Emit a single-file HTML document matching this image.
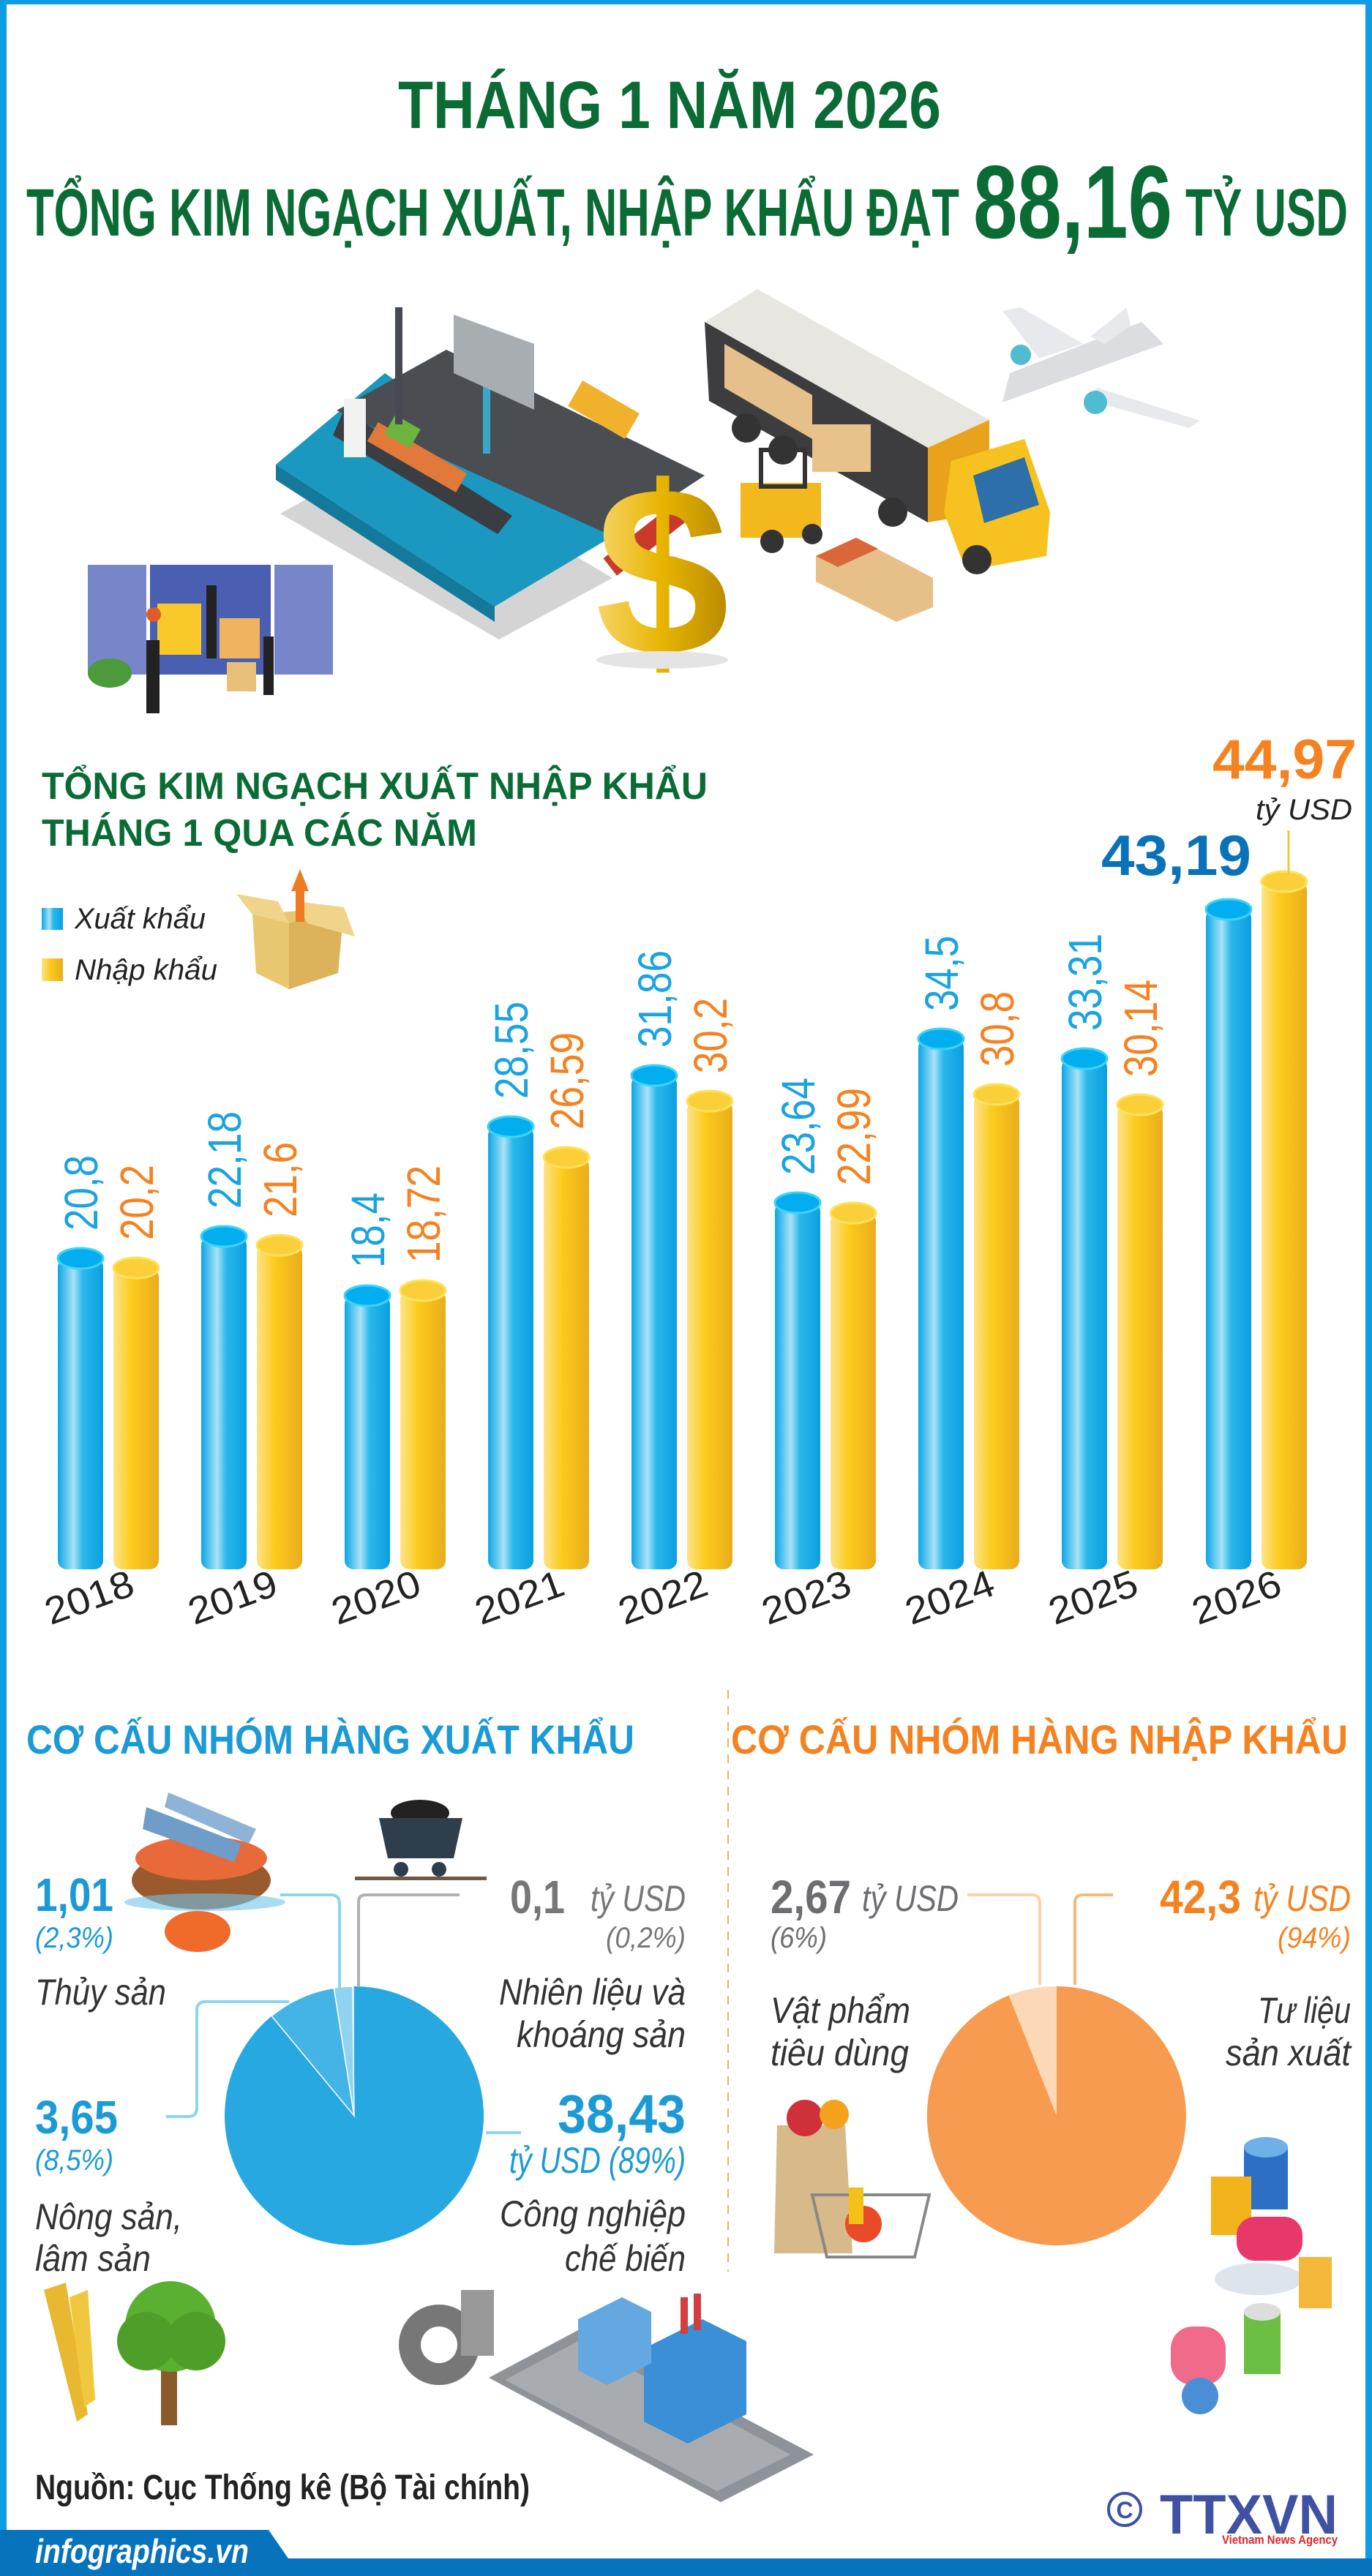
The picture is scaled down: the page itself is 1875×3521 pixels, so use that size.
<!DOCTYPE html>
<html><head><meta charset="utf-8"><style>
html,body{margin:0;padding:0;background:#fff}
svg{display:block}
text{font-family:"Liberation Sans Narrow","Liberation Sans","DejaVu Sans",sans-serif}
</style></head><body>
<svg width="1875" height="3521" viewBox="0 0 1875 3521" xmlns="http://www.w3.org/2000/svg">
<defs>
<linearGradient id="gb" x1="0" x2="1" y1="0" y2="0">
<stop offset="0" stop-color="#0aa6e6"/><stop offset="0.35" stop-color="#a9e2f6"/><stop offset="0.55" stop-color="#2ab8ec"/><stop offset="1" stop-color="#0a9fe0"/></linearGradient>
<linearGradient id="gy" x1="0" x2="1" y1="0" y2="0">
<stop offset="0" stop-color="#fde38a"/><stop offset="0.4" stop-color="#fccb1c"/><stop offset="1" stop-color="#e9ad1c"/></linearGradient>
<linearGradient id="gd" x1="0" x2="1"><stop offset="0" stop-color="#f7d66a"/><stop offset="0.5" stop-color="#e8b400"/><stop offset="1" stop-color="#b88a00"/></linearGradient>
</defs>
<!-- frame -->
<rect x="0" y="0" width="1875" height="6" fill="#0e9de0"/>
<rect x="0" y="0" width="9" height="3521" fill="#0e9de0"/>
<rect x="1866" y="0" width="9" height="3521" fill="#0e9de0"/>

<!-- Titles -->
<text x="915" y="175" font-size="92" font-weight="bold" fill="#0a6b35" text-anchor="middle" textLength="742" lengthAdjust="spacingAndGlyphs">THÁNG 1 NĂM 2026</text>
<text x="36" y="322" font-size="92" font-weight="bold" fill="#0a6b35" textLength="1275" lengthAdjust="spacingAndGlyphs">TỔNG KIM NGẠCH XUẤT, NHẬP KHẨU ĐẠT</text>
<text x="1330" y="325" font-size="142" font-weight="bold" fill="#0a6b35" textLength="272" lengthAdjust="spacingAndGlyphs">88,16</text>
<text x="1620" y="322" font-size="92" font-weight="bold" fill="#0a6b35" textLength="222" lengthAdjust="spacingAndGlyphs">TỶ USD</text>

<!-- Illustration: port -->
<polygon points="383,702 682,874 837,790 540,615" fill="#d4d4d4"/>
<polygon points="377,635 676,829 837,733 526,510" fill="#1a98c0"/>
<polygon points="377,635 676,829 676,850 377,656" fill="#137a9c"/>
<polygon points="460,561 837,733 963,650 610,478" fill="#4a4d52"/>
<polygon points="455,595 680,730 700,705 470,560" fill="#3a3d42"/>
<rect x="500" y="610" width="140" height="30" fill="#e0793a" transform="rotate(30 570 625)"/>
<rect x="530" y="575" width="40" height="30" fill="#6cb33f" transform="rotate(30 550 590)"/>
<rect x="780" y="540" width="90" height="40" fill="#f0b22d" transform="rotate(30 825 560)"/>
<rect x="470" y="545" width="30" height="80" fill="#f2f2f2"/>
<rect x="540" y="420" width="10" height="160" fill="#454a52"/>
<rect x="660" y="450" width="10" height="170" fill="#3ba6c6"/>
<polygon points="620,430 730,470 730,560 620,510" fill="#a8adb2"/>
<rect x="820" y="720" width="130" height="30" fill="#c93a2a" transform="rotate(-38 885 735)"/>
<!-- truck -->
<polygon points="963,440 1035,395 1352,574 1268,612" fill="#e8e6e0"/>
<polygon points="963,440 1268,612 1268,714 969,548" fill="#3d3d3f"/>
<polygon points="990,470 1110,540 1110,600 990,530" fill="#e6c08a"/>
<polygon points="1268,612 1352,574 1352,700 1268,714" fill="#e8a21c"/>
<polygon points="1300,630 1400,600 1435,700 1430,760 1320,780 1290,700" fill="#f7c21f"/>
<polygon points="1330,650 1400,625 1420,690 1345,715" fill="#2d6fa8"/>
<circle cx="1020" cy="585" r="20" fill="#333"/><circle cx="1070" cy="615" r="20" fill="#333"/>
<circle cx="1220" cy="700" r="20" fill="#333"/><circle cx="1335" cy="765" r="20" fill="#333"/>
<!-- forklift -->
<rect x="1012" y="660" width="110" height="75" fill="#f3b81d"/>
<rect x="1040" y="615" width="60" height="50" fill="none" stroke="#333" stroke-width="6"/>
<circle cx="1055" cy="740" r="16" fill="#333"/><circle cx="1110" cy="730" r="14" fill="#333"/>
<rect x="1110" y="580" width="80" height="65" fill="#e8c28a"/>
<!-- boxes -->
<polygon points="1115,760 1170,735 1275,790 1275,830 1225,850 1115,795" fill="#e6c088"/>
<polygon points="1115,760 1170,735 1200,750 1145,775" fill="#d9673a"/>
<!-- dollar -->
<text x="905" y="895" font-size="330" font-weight="bold" fill="url(#gd)" text-anchor="middle" font-family="Liberation Serif, serif">$</text>
<ellipse cx="905" cy="902" rx="90" ry="12" fill="#e4e4e4"/>
<!-- plane -->
<polygon points="1370,550 1380,510 1560,440 1590,470" fill="#dcdde0"/>
<polygon points="1420,490 1370,425 1395,420 1480,470" fill="#e8e9ec"/>
<polygon points="1500,530 1640,575 1625,585 1480,545" fill="#e8e9ec"/>
<polygon points="1490,460 1540,420 1545,445 1510,470" fill="#e8e9ec"/>
<circle cx="1395" cy="485" r="14" fill="#4fbccf"/><circle cx="1497" cy="550" r="16" fill="#4fbccf"/>
<!-- blue truck back -->
<rect x="120" y="772" width="80" height="150" fill="#7786c8"/>
<rect x="375" y="772" width="80" height="150" fill="#7786c8"/>
<rect x="205" y="772" width="165" height="150" fill="#4a5fb2"/>
<rect x="215" y="825" width="60" height="70" fill="#f8c928"/>
<rect x="300" y="845" width="55" height="55" fill="#f0b460"/>
<rect x="200" y="875" width="18" height="100" fill="#222"/>
<rect x="282" y="800" width="14" height="100" fill="#222"/>
<rect x="360" y="870" width="14" height="80" fill="#222"/>
<circle cx="210" cy="840" r="10" fill="#e05a2a"/>
<ellipse cx="150" cy="920" rx="30" ry="20" fill="#4c9a3c"/>
<rect x="310" y="905" width="40" height="40" fill="#e8c07a"/>

<!-- Chart title -->
<text x="57" y="1092" font-size="52" font-weight="bold" fill="#0a6b35" textLength="910" lengthAdjust="spacingAndGlyphs">TỔNG KIM NGẠCH XUẤT NHẬP KHẨU</text>
<text x="57" y="1156" font-size="52" font-weight="bold" fill="#0a6b35" textLength="595" lengthAdjust="spacingAndGlyphs">THÁNG 1 QUA CÁC NĂM</text>
<!-- legend -->
<rect x="57" y="1241" width="29" height="30" fill="url(#gb)"/>
<text x="102" y="1269" font-size="40" font-style="italic" fill="#222" textLength="179" lengthAdjust="spacingAndGlyphs">Xuất khẩu</text>
<rect x="57" y="1310" width="29" height="31" fill="url(#gy)"/>
<text x="102" y="1339" font-size="40" font-style="italic" fill="#222" textLength="195" lengthAdjust="spacingAndGlyphs">Nhập khẩu</text>
<!-- box icon -->
<polygon points="345,1250 470,1240 462,1330 395,1352 350,1330" fill="#e9c670"/>
<polygon points="395,1262 470,1240 462,1330 395,1352" fill="#dcb35a"/>
<polygon points="323,1222 345,1250 395,1262 380,1232" fill="#f0d48a"/>
<polygon points="405,1232 470,1240 485,1280 420,1262" fill="#f0d48a"/>
<rect x="404" y="1215" width="12" height="45" fill="#f07a22"/>
<polygon points="398,1218 422,1218 410,1188" fill="#f07a22"/>

<!-- bars -->
<g id="bars">
<!-- generated per bar -->
</g>
<g>
<!-- 2018 -->
<rect x="79" y="1720" width="62" height="425" rx="12" fill="url(#gb)"/><ellipse cx="110" cy="1720" rx="31" ry="14" fill="#02aeef" stroke="#3dd3f7" stroke-width="3"/>
<rect x="155" y="1733" width="62" height="412" rx="12" fill="url(#gy)"/><ellipse cx="186" cy="1733" rx="31" ry="14" fill="#fbcf3a" stroke="#fde35b" stroke-width="3"/>
<!-- 2019 -->
<rect x="275" y="1690" width="62" height="455" rx="12" fill="url(#gb)"/><ellipse cx="306" cy="1690" rx="31" ry="14" fill="#02aeef" stroke="#3dd3f7" stroke-width="3"/>
<rect x="351" y="1702" width="62" height="443" rx="12" fill="url(#gy)"/><ellipse cx="382" cy="1702" rx="31" ry="14" fill="#fbcf3a" stroke="#fde35b" stroke-width="3"/>
<!-- 2020 -->
<rect x="471" y="1771" width="62" height="374" rx="12" fill="url(#gb)"/><ellipse cx="502" cy="1771" rx="31" ry="14" fill="#02aeef" stroke="#3dd3f7" stroke-width="3"/>
<rect x="547" y="1764" width="62" height="381" rx="12" fill="url(#gy)"/><ellipse cx="578" cy="1764" rx="31" ry="14" fill="#fbcf3a" stroke="#fde35b" stroke-width="3"/>
<!-- 2021 -->
<rect x="667" y="1540" width="62" height="605" rx="12" fill="url(#gb)"/><ellipse cx="698" cy="1540" rx="31" ry="14" fill="#02aeef" stroke="#3dd3f7" stroke-width="3"/>
<rect x="743" y="1582" width="62" height="563" rx="12" fill="url(#gy)"/><ellipse cx="774" cy="1582" rx="31" ry="14" fill="#fbcf3a" stroke="#fde35b" stroke-width="3"/>
<!-- 2022 -->
<rect x="863" y="1470" width="62" height="675" rx="12" fill="url(#gb)"/><ellipse cx="894" cy="1470" rx="31" ry="14" fill="#02aeef" stroke="#3dd3f7" stroke-width="3"/>
<rect x="939" y="1505" width="62" height="640" rx="12" fill="url(#gy)"/><ellipse cx="970" cy="1505" rx="31" ry="14" fill="#fbcf3a" stroke="#fde35b" stroke-width="3"/>
<!-- 2023 -->
<rect x="1059" y="1644" width="62" height="501" rx="12" fill="url(#gb)"/><ellipse cx="1090" cy="1644" rx="31" ry="14" fill="#02aeef" stroke="#3dd3f7" stroke-width="3"/>
<rect x="1135" y="1658" width="62" height="487" rx="12" fill="url(#gy)"/><ellipse cx="1166" cy="1658" rx="31" ry="14" fill="#fbcf3a" stroke="#fde35b" stroke-width="3"/>
<!-- 2024 -->
<rect x="1255" y="1420" width="62" height="725" rx="12" fill="url(#gb)"/><ellipse cx="1286" cy="1420" rx="31" ry="14" fill="#02aeef" stroke="#3dd3f7" stroke-width="3"/>
<rect x="1331" y="1496" width="62" height="649" rx="12" fill="url(#gy)"/><ellipse cx="1362" cy="1496" rx="31" ry="14" fill="#fbcf3a" stroke="#fde35b" stroke-width="3"/>
<!-- 2025 -->
<rect x="1451" y="1447" width="62" height="698" rx="12" fill="url(#gb)"/><ellipse cx="1482" cy="1447" rx="31" ry="14" fill="#02aeef" stroke="#3dd3f7" stroke-width="3"/>
<rect x="1527" y="1510" width="62" height="635" rx="12" fill="url(#gy)"/><ellipse cx="1558" cy="1510" rx="31" ry="14" fill="#fbcf3a" stroke="#fde35b" stroke-width="3"/>
<!-- 2026 -->
<rect x="1648" y="1243" width="62" height="902" rx="12" fill="url(#gb)"/><ellipse cx="1679" cy="1243" rx="31" ry="14" fill="#02aeef" stroke="#3dd3f7" stroke-width="3"/>
<rect x="1724" y="1205" width="62" height="940" rx="12" fill="url(#gy)"/><ellipse cx="1755" cy="1205" rx="31" ry="14" fill="#fbcf3a" stroke="#fde35b" stroke-width="3"/>
</g>
<!-- bar labels -->
<g font-size="64" font-family="Liberation Sans, sans-serif">
<text transform="translate(133,1682) rotate(-90)" fill="#1aa3e0" textLength="103" lengthAdjust="spacingAndGlyphs">20,8</text>
<text transform="translate(209,1695) rotate(-90)" fill="#f58220" textLength="103" lengthAdjust="spacingAndGlyphs">20,2</text>
<text transform="translate(329,1652) rotate(-90)" fill="#1aa3e0" textLength="133" lengthAdjust="spacingAndGlyphs">22,18</text>
<text transform="translate(405,1664) rotate(-90)" fill="#f58220" textLength="103" lengthAdjust="spacingAndGlyphs">21,6</text>
<text transform="translate(525,1733) rotate(-90)" fill="#1aa3e0" textLength="103" lengthAdjust="spacingAndGlyphs">18,4</text>
<text transform="translate(601,1726) rotate(-90)" fill="#f58220" textLength="133" lengthAdjust="spacingAndGlyphs">18,72</text>
<text transform="translate(721,1502) rotate(-90)" fill="#1aa3e0" textLength="133" lengthAdjust="spacingAndGlyphs">28,55</text>
<text transform="translate(797,1544) rotate(-90)" fill="#f58220" textLength="133" lengthAdjust="spacingAndGlyphs">26,59</text>
<text transform="translate(917,1432) rotate(-90)" fill="#1aa3e0" textLength="133" lengthAdjust="spacingAndGlyphs">31,86</text>
<text transform="translate(993,1467) rotate(-90)" fill="#f58220" textLength="103" lengthAdjust="spacingAndGlyphs">30,2</text>
<text transform="translate(1113,1606) rotate(-90)" fill="#1aa3e0" textLength="133" lengthAdjust="spacingAndGlyphs">23,64</text>
<text transform="translate(1189,1620) rotate(-90)" fill="#f58220" textLength="133" lengthAdjust="spacingAndGlyphs">22,99</text>
<text transform="translate(1309,1382) rotate(-90)" fill="#1aa3e0" textLength="103" lengthAdjust="spacingAndGlyphs">34,5</text>
<text transform="translate(1385,1458) rotate(-90)" fill="#f58220" textLength="103" lengthAdjust="spacingAndGlyphs">30,8</text>
<text transform="translate(1505,1409) rotate(-90)" fill="#1aa3e0" textLength="133" lengthAdjust="spacingAndGlyphs">33,31</text>
<text transform="translate(1581,1472) rotate(-90)" fill="#f58220" textLength="133" lengthAdjust="spacingAndGlyphs">30,14</text>
</g>
<text x="1505" y="1196" font-size="78" font-weight="bold" fill="#0a72b8" textLength="205" lengthAdjust="spacingAndGlyphs">43,19</text>
<text x="1657" y="1064" font-size="76" font-weight="bold" fill="#f58220" textLength="197" lengthAdjust="spacingAndGlyphs">44,97</text>
<text x="1716" y="1120" font-size="40" font-style="italic" fill="#222" textLength="132" lengthAdjust="spacingAndGlyphs">tỷ USD</text>
<line x1="1761" y1="1135" x2="1761" y2="1195" stroke="#f5c542" stroke-width="3"/>
<!-- years -->
<g font-size="52" fill="#222" font-family="Liberation Sans, sans-serif">
<text transform="translate(128,2200) rotate(-20)" text-anchor="middle" textLength="125" lengthAdjust="spacingAndGlyphs">2018</text>
<text transform="translate(324,2200) rotate(-20)" text-anchor="middle" textLength="125" lengthAdjust="spacingAndGlyphs">2019</text>
<text transform="translate(520,2200) rotate(-20)" text-anchor="middle" textLength="125" lengthAdjust="spacingAndGlyphs">2020</text>
<text transform="translate(716,2200) rotate(-20)" text-anchor="middle" textLength="125" lengthAdjust="spacingAndGlyphs">2021</text>
<text transform="translate(912,2200) rotate(-20)" text-anchor="middle" textLength="125" lengthAdjust="spacingAndGlyphs">2022</text>
<text transform="translate(1108,2200) rotate(-20)" text-anchor="middle" textLength="125" lengthAdjust="spacingAndGlyphs">2023</text>
<text transform="translate(1304,2200) rotate(-20)" text-anchor="middle" textLength="125" lengthAdjust="spacingAndGlyphs">2024</text>
<text transform="translate(1500,2200) rotate(-20)" text-anchor="middle" textLength="125" lengthAdjust="spacingAndGlyphs">2025</text>
<text transform="translate(1696,2200) rotate(-20)" text-anchor="middle" textLength="125" lengthAdjust="spacingAndGlyphs">2026</text>
</g>

<!-- Section headings -->
<text x="36" y="2397" font-size="56" font-weight="bold" fill="#1b9ad6" textLength="831" lengthAdjust="spacingAndGlyphs">CƠ CẤU NHÓM HÀNG XUẤT KHẨU</text>
<text x="999" y="2397" font-size="56" font-weight="bold" fill="#f58220" textLength="843" lengthAdjust="spacingAndGlyphs">CƠ CẤU NHÓM HÀNG NHẬP KHẨU</text>
<line x1="995" y1="2310" x2="995" y2="3105" stroke="#e3b562" stroke-width="2" stroke-dasharray="12 10"/>

<!-- left pie -->
<path d="M484,2892 L371.2,2755.6 A177,177 0 1 0 484,2715 Z" fill="#27a8e0"/>
<path d="M484,2892 L456.3,2717.2 A177,177 0 0 0 371.2,2755.6 Z" fill="#44b4e6" stroke="#fff" stroke-width="1.5"/>
<path d="M484,2892 L481.8,2715 A177,177 0 0 0 456.3,2717.2 Z" fill="#8fd3f1" stroke="#fff" stroke-width="1.5"/>
<path d="M484,2892 L484,2715 A177,177 0 0 0 481.8,2715 Z" fill="#d6eef9"/>
<!-- right pie -->
<path d="M1444,2892 L1378.8,2727.4 A177,177 0 1 0 1444,2715 Z" fill="#f69b50"/>
<path d="M1444,2892 L1444,2715 A177,177 0 0 0 1378.8,2727.4 Z" fill="#fcd8b6"/>
<!-- connectors -->
<g fill="none" stroke-width="4">
<path d="M383,2590 H452 Q464,2590 464,2602 V2718" stroke="#8dd3f2"/>
<path d="M628,2590 H500 Q490,2590 490,2600 V2716" stroke="#b0b0b0"/>
<path d="M227,2893 H257 Q269,2893 269,2881 V2748 Q269,2736 281,2736 H395" stroke="#8dd3f2"/>
<path d="M664,2915 H712" stroke="#8dd3f2"/>
<path d="M1322,2590 H1410 Q1421,2590 1421,2601 V2713" stroke="#fcd2a8"/>
<path d="M1521,2590 H1480 Q1469,2590 1469,2601 V2713" stroke="#f9b877"/>
</g>
<!-- left texts -->
<text x="48" y="2612" font-size="64" font-weight="bold" fill="#1b9ad6" textLength="107" lengthAdjust="spacingAndGlyphs">1,01</text>
<text x="48" y="2662" font-size="40" font-style="italic" fill="#1b9ad6" textLength="107" lengthAdjust="spacingAndGlyphs">(2,3%)</text>
<text x="48" y="2740" font-size="50" font-style="italic" fill="#333" textLength="179" lengthAdjust="spacingAndGlyphs">Thủy sản</text>
<text x="48" y="2916" font-size="64" font-weight="bold" fill="#1b9ad6" textLength="113" lengthAdjust="spacingAndGlyphs">3,65</text>
<text x="48" y="2966" font-size="40" font-style="italic" fill="#1b9ad6" textLength="107" lengthAdjust="spacingAndGlyphs">(8,5%)</text>
<text x="48" y="3047" font-size="50" font-style="italic" fill="#333" textLength="201" lengthAdjust="spacingAndGlyphs">Nông sản,</text>
<text x="48" y="3104" font-size="50" font-style="italic" fill="#333" textLength="158" lengthAdjust="spacingAndGlyphs">lâm sản</text>
<text x="697" y="2615" font-size="64" font-weight="bold" fill="#777" textLength="75" lengthAdjust="spacingAndGlyphs">0,1</text>
<text x="807" y="2612" font-size="50" font-style="italic" fill="#777" textLength="130" lengthAdjust="spacingAndGlyphs">tỷ USD</text>
<text x="828" y="2662" font-size="40" font-style="italic" fill="#777" textLength="109" lengthAdjust="spacingAndGlyphs">(0,2%)</text>
<text x="682" y="2740" font-size="50" font-style="italic" fill="#333" textLength="255" lengthAdjust="spacingAndGlyphs">Nhiên liệu và</text>
<text x="706" y="2798" font-size="50" font-style="italic" fill="#333" textLength="231" lengthAdjust="spacingAndGlyphs">khoáng sản</text>
<text x="762" y="2915" font-size="74" font-weight="bold" fill="#1b9ad6" textLength="175" lengthAdjust="spacingAndGlyphs">38,43</text>
<text x="696" y="2970" font-size="50" font-style="italic" fill="#1b9ad6" textLength="241" lengthAdjust="spacingAndGlyphs">tỷ USD (89%)</text>
<text x="683" y="3043" font-size="50" font-style="italic" fill="#333" textLength="254" lengthAdjust="spacingAndGlyphs">Công nghiệp</text>
<text x="772" y="3104" font-size="50" font-style="italic" fill="#333" textLength="165" lengthAdjust="spacingAndGlyphs">chế biến</text>
<!-- right texts -->
<text x="1053" y="2615" font-size="64" font-weight="bold" fill="#6d6e71" textLength="110" lengthAdjust="spacingAndGlyphs">2,67</text>
<text x="1178" y="2612" font-size="50" font-style="italic" fill="#6d6e71" textLength="132" lengthAdjust="spacingAndGlyphs">tỷ USD</text>
<text x="1053" y="2662" font-size="40" font-style="italic" fill="#6d6e71" textLength="77" lengthAdjust="spacingAndGlyphs">(6%)</text>
<text x="1053" y="2765" font-size="50" font-style="italic" fill="#333" textLength="191" lengthAdjust="spacingAndGlyphs">Vật phẩm</text>
<text x="1053" y="2823" font-size="50" font-style="italic" fill="#333" textLength="189" lengthAdjust="spacingAndGlyphs">tiêu dùng</text>
<text x="1585" y="2615" font-size="64" font-weight="bold" fill="#f58220" textLength="111" lengthAdjust="spacingAndGlyphs">42,3</text>
<text x="1713" y="2612" font-size="50" font-style="italic" fill="#f58220" textLength="133" lengthAdjust="spacingAndGlyphs">tỷ USD</text>
<text x="1746" y="2662" font-size="40" font-style="italic" fill="#f58220" textLength="100" lengthAdjust="spacingAndGlyphs">(94%)</text>
<text x="1719" y="2765" font-size="50" font-style="italic" fill="#333" textLength="127" lengthAdjust="spacingAndGlyphs">Tư liệu</text>
<text x="1675" y="2823" font-size="50" font-style="italic" fill="#333" textLength="171" lengthAdjust="spacingAndGlyphs">sản xuất</text>

<!-- icons bottom -->
<!-- fish basket -->
<ellipse cx="275" cy="2570" rx="95" ry="40" fill="#9b5a2c"/>
<ellipse cx="275" cy="2540" rx="90" ry="30" fill="#e86a3a"/>
<polygon points="200,2470 330,2520 320,2545 195,2500" fill="#6f9cc8"/>
<polygon points="230,2450 350,2500 340,2520 225,2470" fill="#8fb3d6"/>
<ellipse cx="270" cy="2640" rx="45" ry="28" fill="#f06a2a"/>
<ellipse cx="280" cy="2600" rx="110" ry="12" fill="#6fc3e8" opacity="0.6"/>
<!-- coal cart -->
<ellipse cx="574" cy="2478" rx="40" ry="18" fill="#222"/>
<polygon points="518,2485 632,2485 620,2540 530,2540" fill="#2f3e4d"/>
<circle cx="548" cy="2555" r="10" fill="#2f3e4d"/><circle cx="600" cy="2555" r="10" fill="#2f3e4d"/>
<rect x="485" y="2565" width="180" height="5" fill="#6b5a48"/>
<!-- rice & tree -->
<polygon points="60,3130 90,3120 120,3300 105,3310" fill="#e8b830"/>
<polygon points="95,3140 120,3130 130,3280 115,3290" fill="#f0c840"/>
<rect x="220" y="3215" width="22" height="100" fill="#8a5a2a"/>
<circle cx="233" cy="3180" r="62" fill="#5ab030"/>
<circle cx="200" cy="3200" r="40" fill="#4f9e2a"/>
<circle cx="268" cy="3200" r="40" fill="#4f9e2a"/>
<!-- factory -->
<polygon points="668,3250 790,3185 1112,3355 985,3420" fill="#8e9399"/>
<polygon points="690,3253 790,3200 1080,3355 980,3405" fill="#a8acb0"/>
<polygon points="880,3210 960,3170 1020,3200 1020,3300 940,3340 880,3310" fill="#3a8fd6"/>
<polygon points="790,3170 850,3140 890,3160 890,3230 830,3260 790,3240" fill="#63a8e0"/>
<rect x="930" y="3140" width="10" height="50" fill="#d04040"/><rect x="948" y="3135" width="10" height="50" fill="#d04040"/>
<circle cx="600" cy="3205" r="55" fill="#777"/><circle cx="600" cy="3205" r="25" fill="#fff"/>
<rect x="630" y="3130" width="45" height="90" fill="#999"/>
<!-- grocery -->
<polygon points="1062,2905 1155,2905 1165,3080 1058,3080" fill="#d8b98a"/>
<circle cx="1100" cy="2895" r="25" fill="#d0303a"/><circle cx="1140" cy="2890" r="20" fill="#f4a21c"/>
<polygon points="1110,3000 1270,3000 1250,3085 1130,3085" fill="none" stroke="#888" stroke-width="4"/>
<circle cx="1180" cy="3040" r="25" fill="#e84a2a"/><rect x="1160" y="2990" width="20" height="50" fill="#f3c21a"/>
<!-- spools -->
<rect x="1700" y="2935" width="60" height="85" fill="#2d6fc4"/><ellipse cx="1730" cy="2935" rx="30" ry="14" fill="#6fb0e8"/>
<rect x="1655" y="2975" width="55" height="80" fill="#f2b31c"/>
<rect x="1690" y="3030" width="90" height="60" rx="25" fill="#e8386a"/>
<ellipse cx="1720" cy="3115" rx="60" ry="22" fill="#dde4ec"/>
<rect x="1775" y="3085" width="45" height="70" fill="#f5b83a"/>
<rect x="1700" y="3160" width="50" height="85" fill="#6cbe45"/><ellipse cx="1725" cy="3160" rx="25" ry="12" fill="#ddd"/>
<rect x="1600" y="3180" width="75" height="80" rx="30" fill="#f06a8a"/>
<circle cx="1640" cy="3275" r="25" fill="#4a8fd6"/>

<!-- source -->
<text x="48" y="3416" font-size="48" font-weight="bold" fill="#222" textLength="676" lengthAdjust="spacingAndGlyphs">Nguồn: Cục Thống kê (Bộ Tài chính)</text>
<!-- logo -->
<circle cx="1537" cy="3430" r="22" fill="none" stroke="#3f51a3" stroke-width="4"/>
<text x="1537" y="3442" font-size="32" font-weight="bold" fill="#3f51a3" text-anchor="middle" font-family="Liberation Sans, sans-serif">C</text>
<text x="1585" y="3463" font-size="76" font-weight="bold" fill="#3f51a3" textLength="243" lengthAdjust="spacingAndGlyphs" font-family="Liberation Sans, sans-serif">TTXVN</text>
<text x="1670" y="3477" font-size="17" font-weight="bold" fill="#e2232a" textLength="158" lengthAdjust="spacingAndGlyphs" font-family="Liberation Sans, sans-serif">Vietnam News Agency</text>
<!-- footer -->
<rect x="0" y="3497" width="1875" height="24" fill="#0873bd"/>
<polygon points="0,3458 367,3458 394,3497 394,3521 0,3521" fill="#0873bd"/>
<text x="48" y="3503" font-size="46" font-style="italic" font-weight="bold" fill="#fff" textLength="292" lengthAdjust="spacingAndGlyphs" font-family="Liberation Sans, sans-serif">infographics.vn</text>
</svg>
</body></html>
